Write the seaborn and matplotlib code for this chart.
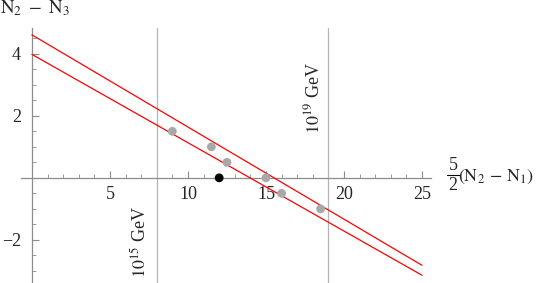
import matplotlib
matplotlib.use("Agg")
import matplotlib.pyplot as plt
import seaborn as sns
import pandas as pd
from matplotlib.lines import Line2D
from matplotlib.ticker import MultipleLocator, FixedLocator

# ---- data ----
point_x = [9.0, 11.5, 12.5, 15.0, 16.0, 18.5]
point_y = [1.5, 1.0, 0.5, 0.0, -0.5, -1.0]
black_x = [12.0]
black_y = [0.0]
line_x = [0.0, 25.0]
upper_y = [4.61, -2.82]
lower_y = [3.98, -3.14]
scale_x = [8.0, 19.0]
scale_labels = [r"$10^{15}$ GeV", r"$10^{19}$ GeV"]
scale_label_y = [-2.07, 2.57]
scale_label_x = [6.92, 18.04]
xticks = [5, 10, 15, 20, 25]
yticks = [-2, 2, 4]

sns.set_style("white")
plt.rcParams["font.family"] = ["Liberation Serif", "DejaVu Serif"]
plt.rcParams["mathtext.fontset"] = "stix"

W, H = 540, 283
fig = plt.figure(figsize=(5.4, 2.83), dpi=100)
ax = fig.add_axes([21 / W, 0.0, 410.4 / W, 0.901])
ax.set_xlim(-0.7, 25.6)
ax.set_ylim(-3.39, 4.83)

for xv in scale_x:
    ax.axvline(xv, color="#b4b4b4", lw=0.9, zorder=1)

lines = pd.DataFrame({"x": line_x * 2,
                      "y": upper_y + lower_y,
                      "line": ["upper"] * 2 + ["lower"] * 2})
sns.lineplot(data=lines, x="x", y="y", units="line", estimator=None,
             color="#ff0000", lw=0.9, ax=ax, zorder=3)

pts = pd.DataFrame({"x": point_x, "y": point_y})
sns.scatterplot(data=pts, x="x", y="y", color="#a8a8a8", s=40,
                edgecolor="none", ax=ax, zorder=4)
bpts = pd.DataFrame({"x": black_x, "y": black_y})
sns.scatterplot(data=bpts, x="x", y="y", color="black", s=40,
                edgecolor="none", ax=ax, zorder=5)

for xv, yv, lab in zip(scale_label_x, scale_label_y, scale_labels):
    ax.text(xv, yv, lab, rotation=90, ha="center", va="center", fontsize=13)

for side in ["top", "right"]:
    ax.spines[side].set_visible(False)
ax.spines["left"].set_position(("data", 0))
ax.spines["bottom"].set_position(("data", 0))
for side in ["left", "bottom"]:
    ax.spines[side].set_color("#8c8c8c")
    ax.spines[side].set_linewidth(0.9)

ax.xaxis.set_major_locator(FixedLocator(xticks))
ax.xaxis.set_minor_locator(MultipleLocator(1))
ax.yaxis.set_major_locator(FixedLocator(yticks))
ax.yaxis.set_minor_locator(MultipleLocator(0.5))
ax.set_xticklabels([str(t) for t in xticks])
ax.set_yticklabels([str(t).replace("-", "\u2212") for t in yticks])
ax.tick_params(axis="both", which="both", bottom=True, left=True)
ax.tick_params(axis="both", which="major", direction="in", length=5,
               width=0.8, color="#8c8c8c", labelsize=13)
ax.tick_params(axis="both", which="minor", direction="in", length=3,
               width=0.6, color="#8c8c8c")
ax.tick_params(axis="x", which="major", pad=6)
ax.tick_params(axis="y", which="major", pad=8)
ax.set_xlabel("")
ax.set_ylabel("")

# y-axis label (top left)
fig.text(0.5 / W, 1 - 13.5 / H, r"$\mathrm{N}_2\ -\ \mathrm{N}_3$",
         ha="left", va="baseline", fontsize=13.5)

# x-axis label: 5/2 (N2 - N1), fraction built by hand
fig.text(453 / W, 1 - 170.5 / H, "5", ha="center", va="baseline", fontsize=13)
fig.text(453 / W, 1 - 189.5 / H, "2", ha="center", va="baseline", fontsize=13)
fig.add_artist(Line2D([446.5 / W, 459.5 / W], [1 - 174.5 / H, 1 - 174.5 / H],
                      color="black", lw=0.8, transform=fig.transFigure))
fig.text(458.5 / W, 1 - 181 / H, r"$(\mathrm{N}_2\,-\,\mathrm{N}_1)$",
         ha="left", va="baseline", fontsize=13)

fig.savefig("out.png", dpi=100)
